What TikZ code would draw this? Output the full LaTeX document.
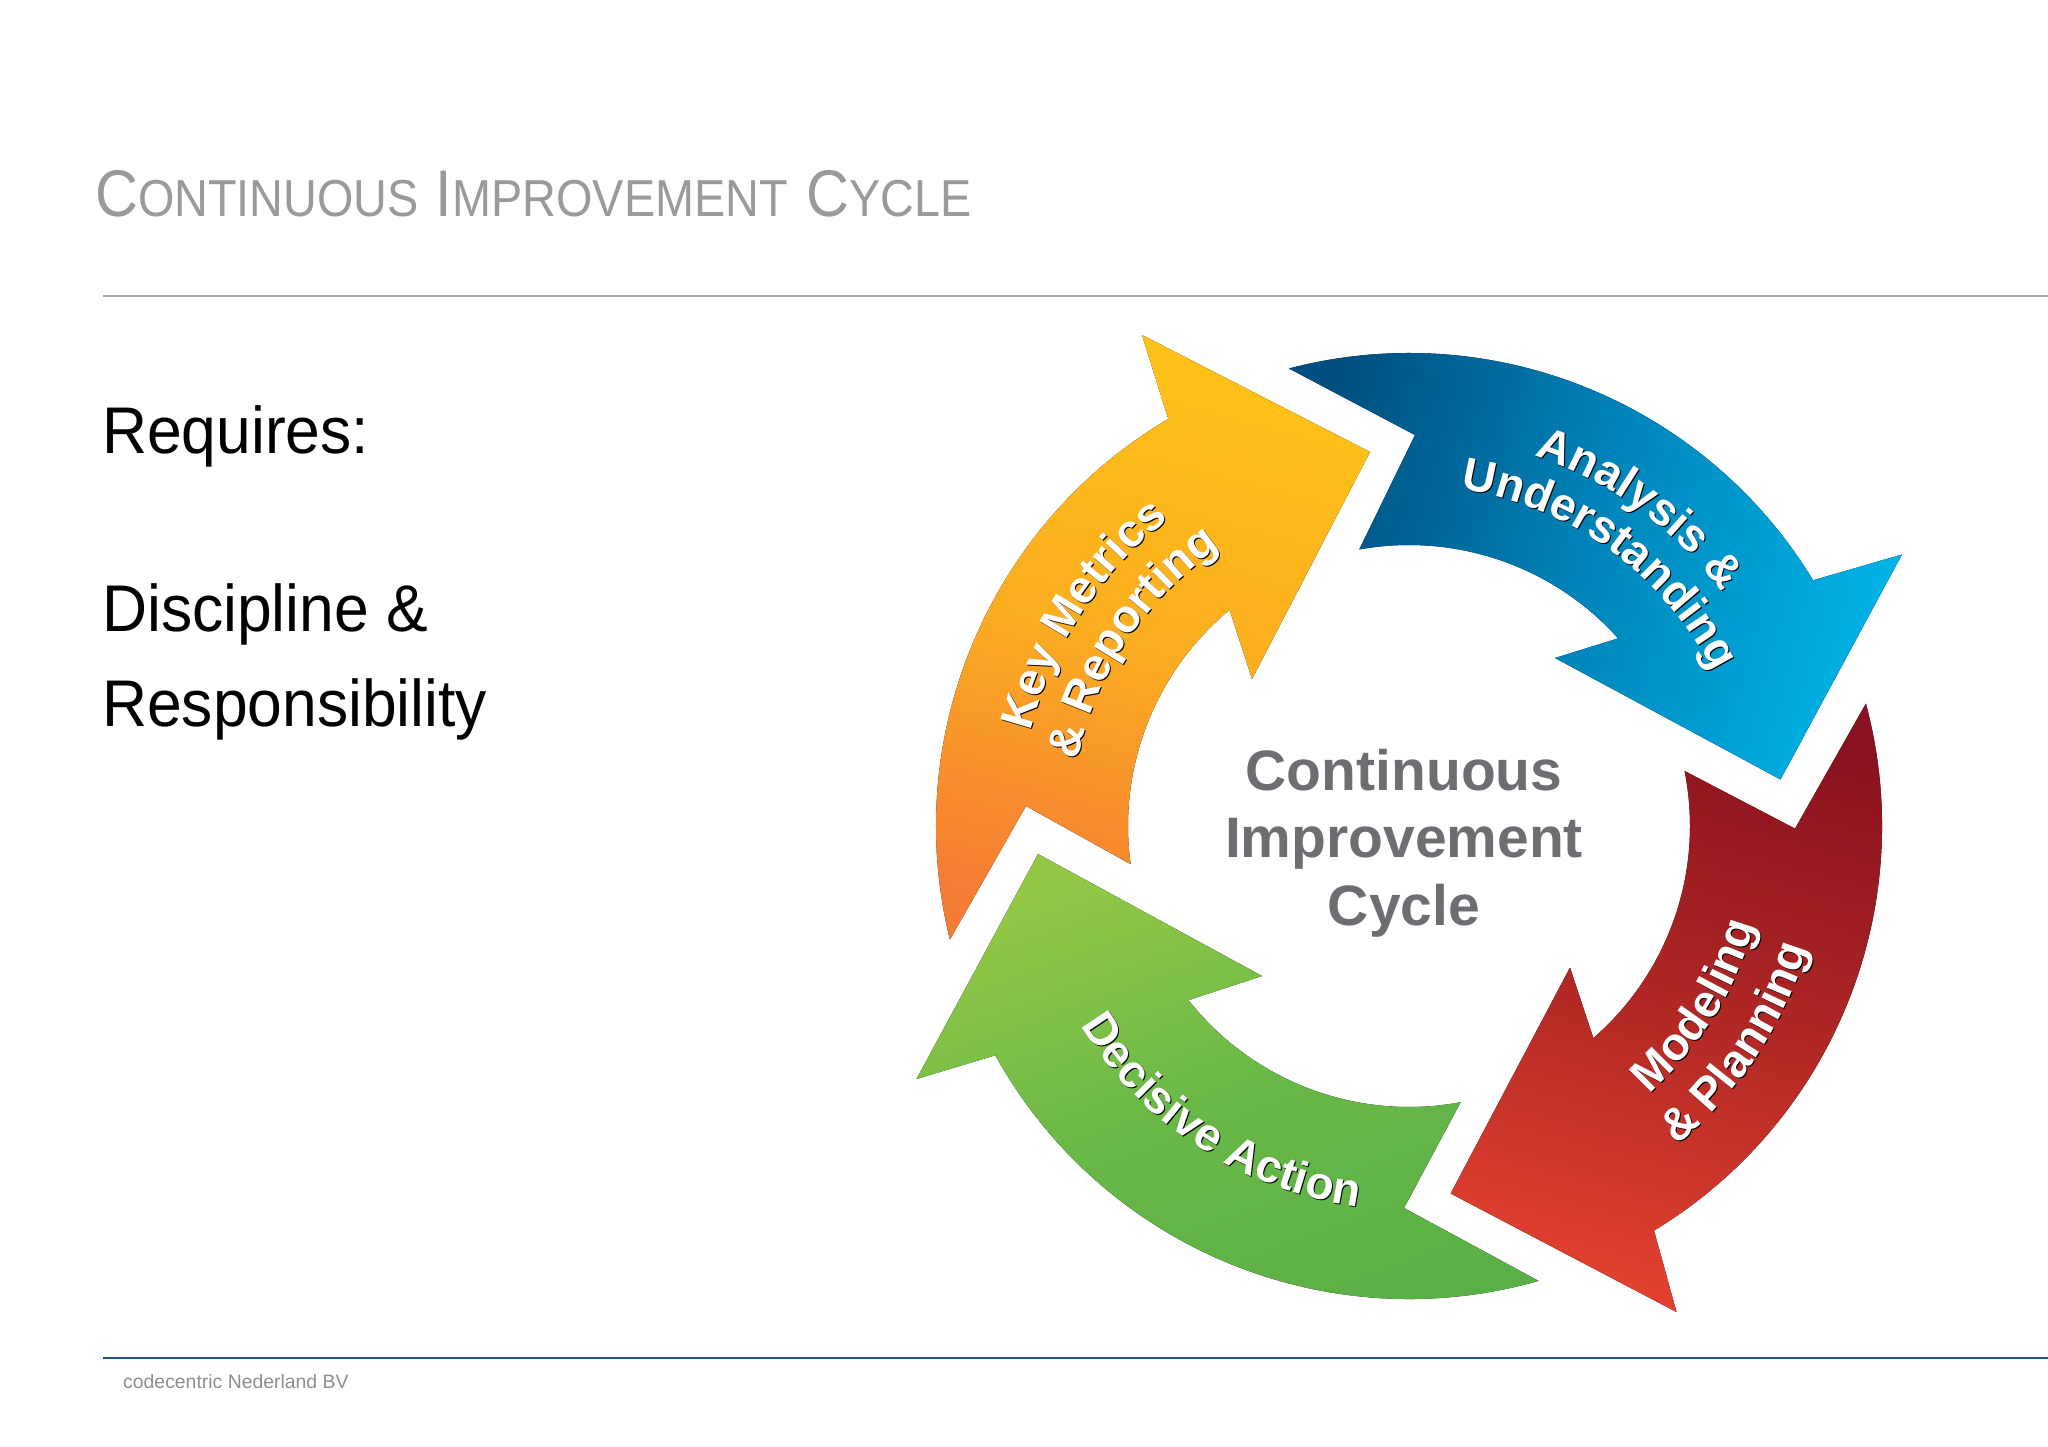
\documentclass[tikz,border=0pt]{standalone}
\usepackage{fontspec}
\setmainfont{Liberation Sans}
\newfontfamily\titlefont[FakeStretch=.9]{Liberation Sans}
\newfontfamily\bodyfont[FakeStretch=.945]{Liberation Sans}
\usetikzlibrary{decorations.text}
\definecolor{titlegray}{HTML}{9A9A9A}
\definecolor{rulegray}{HTML}{ABABAB}
\definecolor{ruleblue}{HTML}{1F4E9C}
\definecolor{footgray}{HTML}{8E8E8E}
\definecolor{centregray}{HTML}{6D6E71}
\definecolor{yellowtop}{HTML}{FFC217}
\definecolor{yellowmid}{HTML}{FBAE20}
\definecolor{yellowbot}{HTML}{F57C34}
\definecolor{bluetop}{HTML}{00B2E5}
\definecolor{bluemid}{HTML}{0085BB}
\definecolor{bluebot}{HTML}{004F80}
\definecolor{redtop}{HTML}{88121F}
\definecolor{redmid}{HTML}{B02724}
\definecolor{redbot}{HTML}{E34130}
\definecolor{greentop}{HTML}{93C846}
\definecolor{greenmid}{HTML}{68B847}
\definecolor{greenbot}{HTML}{5AB046}
\newcommand{\tcap}[2]{{\fontsize{66}{66}\selectfont #1}{\fontsize{52}{52}\selectfont #2}}
\newcommand{\lblfont}{\fontsize{46}{46}\selectfont\bfseries}
% Chu nhan theo cung: ban kinh, goc dau, goc cuoi, chu
\newcommand{\arctext}[4]{%
	\path[shift={(1,-1)},opacity=.16,decorate,decoration={text along path,text align=center,text color=black,text={|\lblfont|#4}}] (#2:#1) arc (#2:#3:#1);
	\path[decorate,decoration={text along path,text align=center,text color=white,text={|\lblfont|#4}}] (#2:#1) arc (#2:#3:#1);}
\tikzset{
	bodytext/.style={anchor=base west,inner sep=0pt,font=\bodyfont\fontsize{66}{66}\selectfont},
	centretext/.style={anchor=base,inner sep=0pt,text=centregray,font=\fontsize{57}{57}\selectfont\bfseries},
	arrowshade/.style n args={4}{top color=#1,bottom color=#3,middle color=#2,shading angle=#4},
}
\begin{document}
\begin{tikzpicture}[x=1pt,y=1pt,line join=round]
	\useasboundingbox (0,0) rectangle (2048,-1447);
	\def\Rout{473} % Outer radius
	\def\Rin{281} % Inner radius
	\node[anchor=base west,inner sep=0pt,text=titlegray] (title) at (95,-217) {\titlefont\tcap{C}{ONTINUOUS}\hspace{17pt}\tcap{I}{MPROVEMENT}\hspace{19pt}\tcap{C}{YCLE}};
	\coordinate (topL) at (103,-296);
	\coordinate (topR) at (2048,-296);
	\coordinate (botL) at (103,-1358);
	\coordinate (botR) at (2048,-1358);
	\draw[rulegray,line width=2.5pt] (topL)--(topR);
	\draw[ruleblue,line width=2pt] (botL)--(botR);
	\node[bodytext] (requires) at (102,-453) {Requires:};
	\node[bodytext] (discipline) at (102,-631) {Discipline \&};
	\node[bodytext] (responsibility) at (102,-726) {Responsibility};
	\node[anchor=base west,inner sep=0pt,text=footgray,font=\fontsize{19.4}{19.4}\selectfont] (footer) at (123,-1388) {codecentric Nederland BV};
	\begin{scope}[shift={(1409,-826)}]
		\fill[arrowshade={yellowtop}{yellowmid}{yellowbot}{-15}] (193.9:\Rout) arc (193.9:120.6:\Rout)--(-267,491)--(-39,374)--(-157,147)--(129.7:\Rin) arc (129.7:187.8:\Rin)--(-383,20)--cycle;
		\fill[arrowshade={bluetop}{bluemid}{bluebot}{-105}] (104.7:\Rout) arc (104.7:31.3:\Rout)--(493,271.5)--(371.5,46.5)--(146,168)--(41.9:\Rin) arc (41.9:100.2:\Rin)--(6,391)--cycle;
		\fill[arrowshade={redtop}{redmid}{redbot}{-15}] (15:\Rout) arc (15:-58.8:\Rout)--(267.5,-486)--(41.6,-367.5)--(161,-141.5)--(-49:\Rin) arc (-49:11.3:\Rin)--(386,-2.6)--cycle;
		\fill[arrowshade={greentop}{greenmid}{greenbot}{20}] (-74.1:\Rout) arc (-74.1:-151:\Rout)--(-492.5,-253)--(-371,-28)--(-147,-150)--(-141.7:\Rin) arc (-141.7:-79.4:\Rin)--(-5,-382)--cycle;
		\arctext{390}{172}{122}{Key Metrics}
		\arctext{337}{176}{117}{{\&} Reporting}
		\arctext{391}{84}{24}{Analysis {\&}}
		\arctext{341}{100}{8}{Understanding}
		\arctext{360}{-60}{-4}{Modeling}
		\arctext{417}{-62.5}{-4.5}{{\&} Planning}
		\arctext{384}{205.3}{268.3}{Decisive Action}
	\end{scope}
	\node[centretext] (cont) at (1404,-790) {Continuous};
	\node[centretext] (impr) at (1404,-857) {Improvement};
	\node[centretext] (cycl) at (1404,-925) {Cycle};
\end{tikzpicture}
\end{document}
